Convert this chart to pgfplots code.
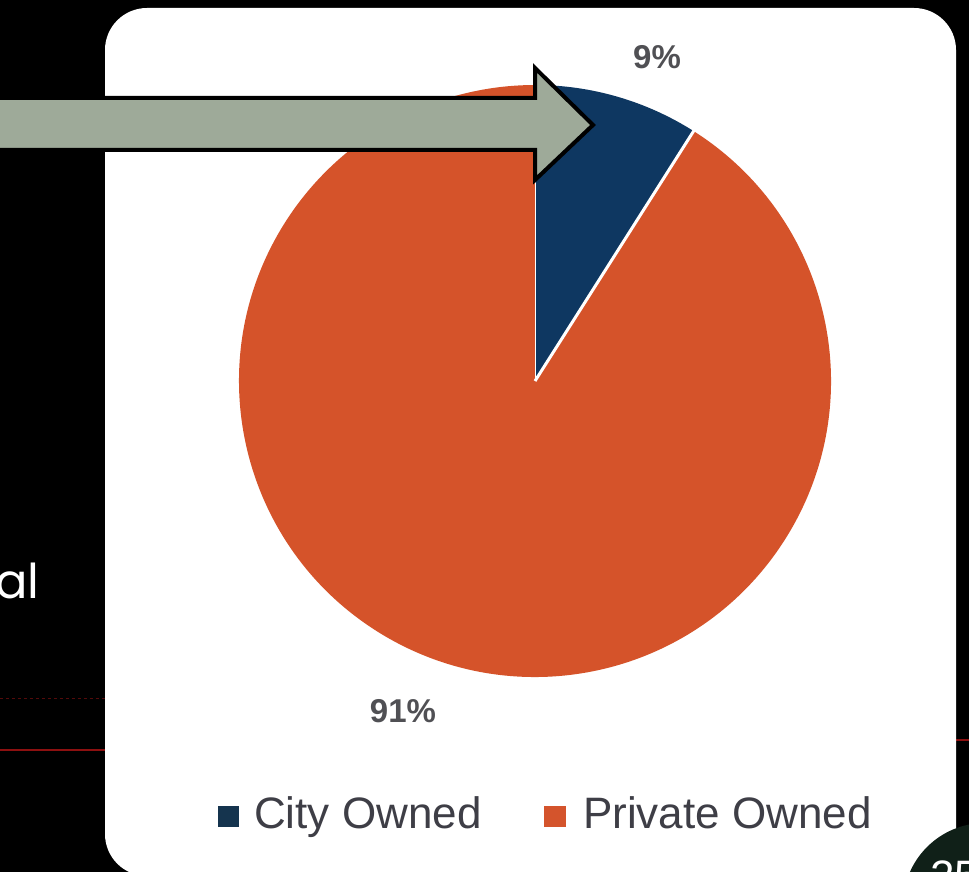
\documentclass[border=0pt]{standalone}
\usepackage{pgfplots}
\usepackage{pgfplotstable}
\usepackage{fontspec}
\setmainfont{Liberation Sans}
\newfontfamily\slidefont{Poppins}
\pgfplotsset{compat=1.18}
\definecolor{pieorange}{RGB}{213,83,42}
\definecolor{pieblue}{RGB}{14,55,97}
\definecolor{legblue}{RGB}{21,52,78}
\definecolor{legorange}{RGB}{212,84,44}
\definecolor{arrowgray}{RGB}{158,170,153}
\definecolor{labgray}{RGB}{80,80,84}
\definecolor{leggray}{RGB}{62,62,70}
\definecolor{slidered}{RGB}{140,16,16}
\definecolor{pagedark}{RGB}{16,32,24}

\pgfplotstableread{
label value
City 9
Private 91
}\piedata

\begin{document}
\begin{tikzpicture}
\pgfplotstablegetelem{0}{value}\of\piedata
\pgfmathsetmacro{\cityval}{\pgfplotsretval}
\pgfplotstablegetelem{1}{value}\of\piedata
\pgfmathsetmacro{\privval}{\pgfplotsretval}
\pgfmathsetmacro{\angA}{90-3.6*\cityval}
\pgfmathsetmacro{\angB}{\angA-3.6*\privval}
\begin{axis}[width=969bp,height=872bp,scale only axis,
  xmin=0,xmax=969,ymin=0,ymax=872,y dir=reverse,hide axis]
% slide background
\fill[black] (axis cs:-10,-10) rectangle (axis cs:980,880);
\draw[slidered, line width=2bp] (axis cs:0,750) -- (axis cs:110,750);
\draw[slidered, line width=2bp] (axis cs:950,740) -- (axis cs:969,740);
\draw[slidered!60!black, line width=0.8bp, dashed] (axis cs:0,698) -- (axis cs:105,698);
\node[anchor=base east, inner sep=0pt, text=white, font=\slidefont\fontsize{48bp}{52bp}\selectfont] at (axis cs:40,598) {al};
% card
\fill[white, rounded corners=42bp] (axis cs:105,8) rectangle (axis cs:956,876);
% page number circle
\fill[pagedark] (axis cs:985,905) circle[radius=82bp];
\node[anchor=north west, inner sep=0pt, text=white, font=\fontsize{44bp}{48bp}\selectfont] at (axis cs:930,861) {25};
% pie
\fill[pieblue] (axis cs:535,381) -- ++(90:296bp) arc[start angle=90, end angle=\angA, radius=296bp] -- cycle;
\fill[pieorange] (axis cs:535,381) -- ++(\angA:296bp) arc[start angle=\angA, end angle=\angB, radius=296bp] -- cycle;
\draw[white, line width=3bp] (axis cs:535,381) -- ++(\angA:298bp);
\draw[white, line width=1bp] (axis cs:535,381) -- ++(90:298bp);
% arrow
\filldraw[fill=arrowgray, draw=black, line width=4bp, line join=miter]
  (axis cs:-8,98) -- (axis cs:535,98) -- (axis cs:535,68) -- (axis cs:593,125)
  -- (axis cs:535,180) -- (axis cs:535,150) -- (axis cs:-8,150) -- cycle;
% data labels
\node[text=labgray, font=\bfseries\fontsize{33bp}{36bp}\selectfont] at (axis cs:657,57) {9\%};
\node[text=labgray, font=\bfseries\fontsize{33bp}{36bp}\selectfont] at (axis cs:403,711) {91\%};
% legend
\fill[legblue] (axis cs:218,806) rectangle (axis cs:239,827);
\node[anchor=base west, inner sep=0pt, text=leggray, font=\fontsize{44bp}{48bp}\selectfont] at (axis cs:254,828) {City Owned};
\fill[legorange] (axis cs:544,806) rectangle (axis cs:566,827);
\node[anchor=base west, inner sep=0pt, text=leggray, font=\fontsize{44bp}{48bp}\selectfont] at (axis cs:583,828) {Private Owned};
\end{axis}
\end{tikzpicture}
\end{document}
